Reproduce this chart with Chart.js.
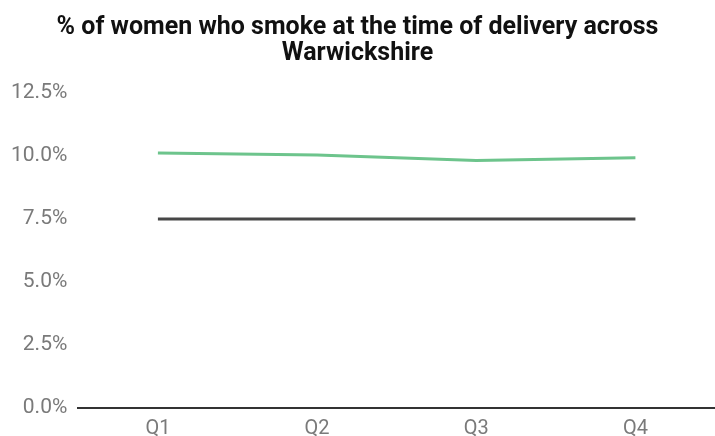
<!DOCTYPE html>
<html>
<head>
<meta charset="utf-8">
<script src="https://cdn.jsdelivr.net/npm/chart.js@4"></script>
<style>
    html, body { margin: 0; padding: 0; background: #fff; overflow: hidden; }
    #wrap { width: 715px; height: 450px; }
</style>
</head>
<body>
<div id="wrap"><canvas id="smoking-chart" width="715" height="450"></canvas></div>
<script>
const quarters = ['Q1', 'Q2', 'Q3', 'Q4'];
const warwickshire = [10.12, 10.04, 9.82, 9.93];
const target = [7.5, 7.5, 7.5, 7.5];
const yTicks = [0, 2.5, 5, 7.5, 10, 12.5];

const ctx = document.getElementById('smoking-chart');

new Chart(ctx, {
    type: 'line',
    data: {
        labels: quarters,
        datasets: [{
            label: 'Warwickshire',
            data: warwickshire,
            borderColor: '#6dc48c',
            borderWidth: 3,
            pointRadius: 0,
            tension: 0
        }, {
            label: 'Target',
            data: target,
            borderColor: '#474747',
            borderWidth: 3,
            pointRadius: 0,
            tension: 0
        }]
    },
    options: {
        responsive: false,
        animation: false,
        layout: { padding: { left: 0, right: 0, top: 15, bottom: 0 } },
        plugins: {
            legend: { display: false },
            tooltip: { enabled: false },
            title: {
                display: true,
                text: ['% of women who smoke at the time of delivery across', 'Warwickshire'],
                color: '#111',
                font: { family: 'Roboto', size: 25, weight: 'bold', lineHeight: 1.04 },
                padding: { top: 0, bottom: 26 }
            }
        },
        scales: {
            x: {
                offset: true,
                grid: { display: false, drawTicks: false },
                border: { display: true, color: '#333', width: 2 },
                ticks: {
                    color: '#7a7a7a',
                    padding: 9,
                    font: { family: 'Roboto', size: 20 }
                }
            },
            y: {
                min: 0,
                max: 12.5,
                afterBuildTicks: axis => {
                    axis.ticks = yTicks.map(v => ({ value: v }));
                },
                grid: { display: false, drawTicks: false },
                border: { display: false },
                ticks: {
                    color: '#7a7a7a',
                    padding: 11,
                    font: { family: 'Roboto', size: 21 },
                    callback: v => v.toFixed(1) + '%'
                }
            }
        }
    }
});
</script>
</body>
</html>
